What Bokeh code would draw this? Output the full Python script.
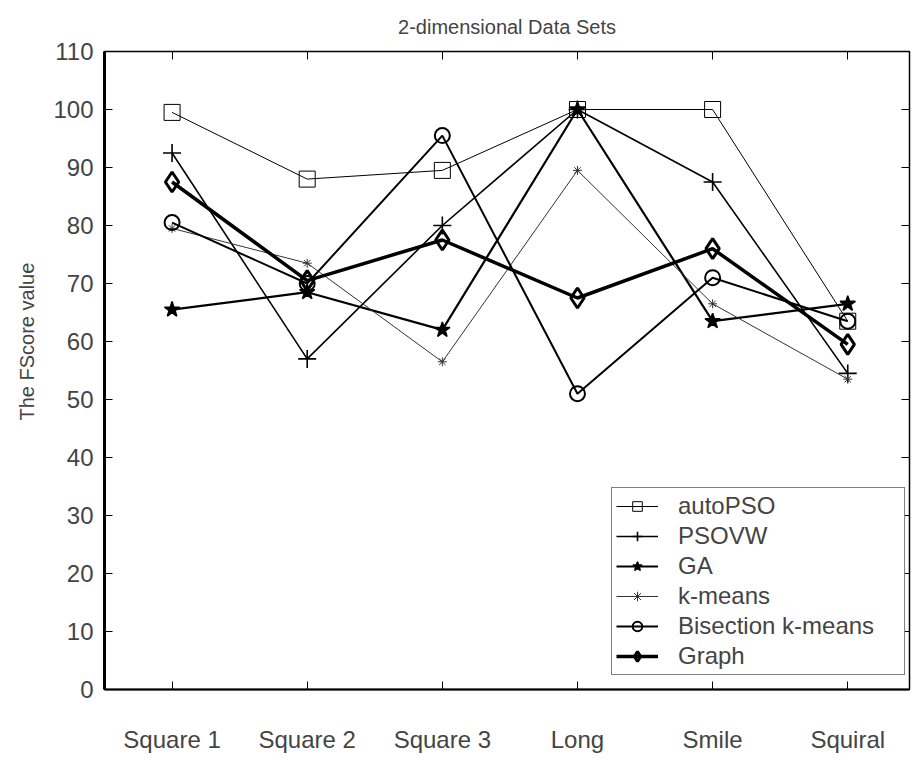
from bokeh.plotting import figure
from bokeh.models import (FixedTicker, LinearAxis, Range1d, Legend, LegendItem, Title)
from bokeh.embed import file_html
from bokeh.resources import INLINE

# FScore per data set for each clustering method
categories = ["Square 1", "Square 2", "Square 3", "Long", "Smile", "Squiral"]
autopso = [99.5, 88.0, 89.5, 100.0, 100.0, 63.5]
psovw = [92.5, 57.0, 80.0, 100.0, 87.5, 54.5]
ga = [65.5, 68.5, 62.0, 100.0, 63.5, 66.5]
kmeans = [79.5, 73.5, 56.5, 89.5, 66.5, 53.5]
bisection = [80.5, 70.0, 95.5, 51.0, 71.0, 63.5]
graph = [87.5, 70.5, 77.5, 67.5, 76.0, 59.5]
y_ticks = [0, 10, 20, 30, 40, 50, 60, 70, 80, 90, 100, 110]

FONT = "Liberation Sans"
xs = list(range(1, len(categories) + 1))

p = figure(width=911, height=759, output_backend="svg", toolbar_location=None,
           x_range=Range1d(0.5, 6.457), y_range=Range1d(0, 110),
           min_border_left=103, min_border_right=2, min_border_top=0,
           min_border_bottom=70)
p.background_fill_color = "white"
p.border_fill_color = "white"
p.outline_line_color = "black"
p.outline_line_width = 1.5
p.grid.visible = False

# bottom axis: categories
xa = p.xaxis[0]
xa.ticker = FixedTicker(ticks=xs)
xa.major_label_overrides = {i: c for i, c in zip(xs, categories)}
xa.major_label_text_font = FONT
xa.major_label_text_font_size = "24px"
xa.major_label_standoff = 36
xa.major_tick_in = 8
xa.major_tick_out = 0
xa.minor_tick_line_color = None
xa.axis_line_width = 2

# left axis
ya = p.yaxis[0]
ya.ticker = FixedTicker(ticks=y_ticks)
ya.major_label_text_font = FONT
ya.major_label_text_font_size = "24px"
ya.major_label_standoff = 11
ya.major_tick_in = 8
ya.major_tick_out = 0
ya.minor_tick_line_color = None
ya.axis_line_width = 3

# tick marks on the top and right edges, no labels
top = LinearAxis(ticker=FixedTicker(ticks=xs),
                 major_label_overrides={i: "" for i in xs},
                 major_label_standoff=0, major_tick_in=8, major_tick_out=0,
                 minor_tick_line_color=None, axis_line_width=1)
right = LinearAxis(ticker=FixedTicker(ticks=y_ticks),
                   major_label_overrides={t: "" for t in y_ticks},
                   major_label_standoff=0, major_tick_in=8, major_tick_out=0,
                   minor_tick_line_color=None, axis_line_width=1)
p.add_layout(top, "above")
p.add_layout(right, "right")

# chart title and y caption
p.add_layout(Title(text="2-dimensional Data Sets", align="center",
                   vertical_align="bottom",
                   text_font=FONT, text_font_size="20px",
                   text_font_style="normal", standoff=27), "above")
p.add_layout(Title(text="The FScore value", align="left", offset=269,
                   text_font=FONT, text_font_size="20px",
                   text_font_style="normal", standoff=26), "left")

series = [
    ("autoPSO", autopso, "square", 16, 1.0, 1.0, None, "black"),
    ("PSOVW", psovw, "cross", 18, 1.6, 1.6, None, "black"),
    ("GA", ga, "star", 16, 2.2, 1.5, "black", "black"),
    ("k-means", kmeans, "asterisk", 9, 1.0, 1.0, None, "#333333"),
    ("Bisection k-means", bisection, "circle", 15, 2.0, 2.0, None, "black"),
    ("Graph", graph, "diamond", 20, 3.5, 3.0, None, "black"),
]

items = []
for name, vals, marker, size, lw, mlw, fill, color in series:
    ln = p.line(xs, vals, line_color=color, line_width=lw)
    sc = p.scatter(xs, vals, marker=marker, size=size, line_color=color,
                   line_width=mlw, fill_color=fill if fill else "white",
                   fill_alpha=1.0 if fill else 0.0)
    items.append(LegendItem(label=name, renderers=[ln, sc]))

legend = Legend(items=items, location=(507, 14))
legend.label_text_font = FONT
legend.label_text_font_size = "24px"
legend.glyph_width = 42
legend.glyph_height = 24
legend.label_height = 24
legend.label_width = 222
legend.spacing = 2
legend.padding = 4
legend.margin = 0
legend.label_standoff = 20
legend.border_line_color = "black"
legend.border_line_width = 1.5
legend.background_fill_color = "white"
legend.background_fill_alpha = 1.0
p.add_layout(legend, "center")

open("out.html", "w").write(file_html(p, INLINE))
